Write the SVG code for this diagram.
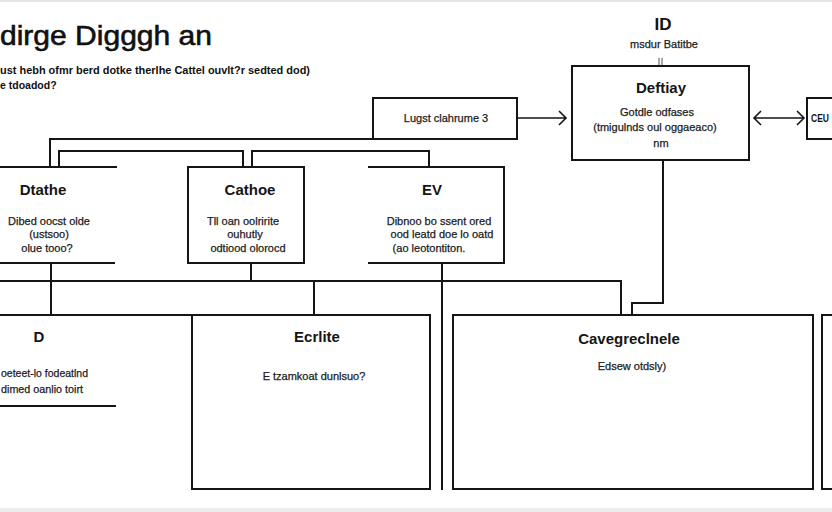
<svg xmlns="http://www.w3.org/2000/svg" width="832" height="512" viewBox="0 0 832 512">
<style>
.bx{fill:#fff;stroke:#151515;stroke-width:2}
.ln{fill:none;stroke:#151515;stroke-width:2}
.ar{fill:none;stroke:#151515;stroke-width:1.6}
.t{font-family:"Liberation Sans",Arial,sans-serif;font-weight:bold;font-size:15px;fill:#151515;text-anchor:middle}
.b{font-family:"Liberation Sans",Arial,sans-serif;font-size:11px;fill:#1c1c1c;stroke:#1c1c1c;stroke-width:0.25;text-anchor:middle}
.bs{font-family:"Liberation Sans",Arial,sans-serif;font-size:11px;fill:#1c1c1c;stroke:#1c1c1c;stroke-width:0.25;text-anchor:start}
.h{font-family:"Liberation Sans",Arial,sans-serif;fill:#111}
</style>
<rect x="0" y="0" width="832" height="512" fill="#fff"/>
<rect x="0" y="0" width="832" height="2" fill="#e6e6e6"/>
<rect x="0" y="508" width="832" height="4" fill="#ededed"/>

<g id="title">
<text class="h" x="0" y="45" font-size="28" stroke="#111" stroke-width="0.6" textLength="212" lengthAdjust="spacingAndGlyphs">dirge Digggh an</text>
<text class="h" x="0" y="74" font-size="10.5" font-weight="bold" fill="#222" textLength="310" lengthAdjust="spacingAndGlyphs">ust hebh ofmr berd dotke therlhe Cattel ouvlt?r sedted dod)</text>
<text class="h" x="0" y="89" font-size="10.5" font-weight="bold" fill="#222">e tdoadod?</text>
</g>

<g id="connectors">
<path class="ln" d="M50,167 V139 H373"/>
<path class="ln" d="M59,167 V151 H243 V167"/>
<path class="ln" d="M252,167 V151 H429 V167"/>
<path class="ln" d="M51,263 V315"/>
<path class="ln" d="M0,281 H621 V315"/>
<path class="ln" d="M251,263 V281"/>
<path class="ln" d="M314,281 V315"/>
<path class="ln" d="M442,263 V490"/>
<path class="ln" d="M663,160 V303 H632 V315"/>
<path class="ar" d="M518,118 H566 M559,111 L566,118 L559,125"/>
<path class="ar" d="M754,118 H804 M761,111 L754,118 L761,125 M797,111 L804,118 L797,125"/>
<path d="M659,58 V65 M662,58 V65" stroke="#555" stroke-width="1" fill="none"/>
</g>

<g id="node-id">
<text x="663" y="30" font-family="Liberation Sans,Arial,sans-serif" font-weight="bold" font-size="17" fill="#111" text-anchor="middle">ID</text>
<text class="b" x="664" y="48" font-size="10.5">msdur Batitbe</text>
</g>

<g id="node-lugst">
<rect class="bx" x="373" y="98" width="144" height="41"/>
<text class="b" x="446" y="122">Lugst clahrume 3</text>
</g>

<g id="node-deftiay">
<rect class="bx" x="572" y="66" width="177" height="94"/>
<text class="t" x="661" y="93" font-size="16">Deftiay</text>
<text class="b" x="657" y="116">Gotdle odfases</text>
<text class="b" x="655" y="131">(tmigulnds oul oggaeaco)</text>
<text class="b" x="661" y="147" font-size="10">nm</text>
</g>

<g id="node-ceu">
<rect class="bx" x="807" y="98" width="40" height="41"/>
<text x="811" y="122" font-family="Liberation Sans,Arial,sans-serif" font-weight="bold" font-size="10.5" fill="#151515" textLength="18" lengthAdjust="spacingAndGlyphs">CEU</text>
</g>

<g id="node-dtathe">
<path class="ln" d="M0,167 H117 M0,263 H115"/>
<text class="t" x="43" y="195">Dtathe</text>
<text class="b" x="49" y="225">Dibed oocst olde</text>
<text class="b" x="49" y="238">(ustsoo)</text>
<text class="b" x="47" y="252">olue tooo?</text>
</g>

<g id="node-cathoe">
<rect class="bx" x="188" y="167" width="116" height="96"/>
<text class="t" x="250" y="195">Cathoe</text>
<text class="b" x="243" y="225">Tll oan oolririte</text>
<text class="b" x="245" y="238">ouhutly</text>
<text class="b" x="248" y="252">odtiood olorocd</text>
</g>

<g id="node-ev">
<path class="ln" d="M368,167 H504 V263 H368"/>
<text class="t" x="432" y="195">EV</text>
<text class="b" x="439" y="225">Dibnoo bo ssent ored</text>
<text class="b" x="442" y="238">ood leatd doe lo oatd</text>
<text class="b" x="429" y="252">(ao leotontiton.</text>
</g>

<g id="node-d">
<path class="ln" d="M0,315 H192 M0,406 H116"/>
<text class="t" x="39" y="342">D</text>
<text class="bs" x="1" y="377" textLength="87" lengthAdjust="spacingAndGlyphs">oeteet-lo fodeatlnd</text>
<text class="bs" x="1" y="393" textLength="82" lengthAdjust="spacingAndGlyphs">dimed oanlio toirt</text>
</g>

<g id="node-ecrlite">
<rect class="bx" x="192" y="315" width="238" height="174"/>
<text class="t" x="317" y="342">Ecrlite</text>
<text class="b" x="314" y="380">E tzamkoat dunlsuo?</text>
</g>

<g id="node-cavegreclnele">
<rect class="bx" x="453" y="315" width="360" height="174"/>
<text class="t" x="629" y="344">Cavegreclnele</text>
<text class="b" x="632" y="370" font-size="10">Edsew otdsly)</text>
</g>

<g id="node-right">
<rect class="bx" x="822" y="315" width="30" height="174"/>
</g>
</svg>
